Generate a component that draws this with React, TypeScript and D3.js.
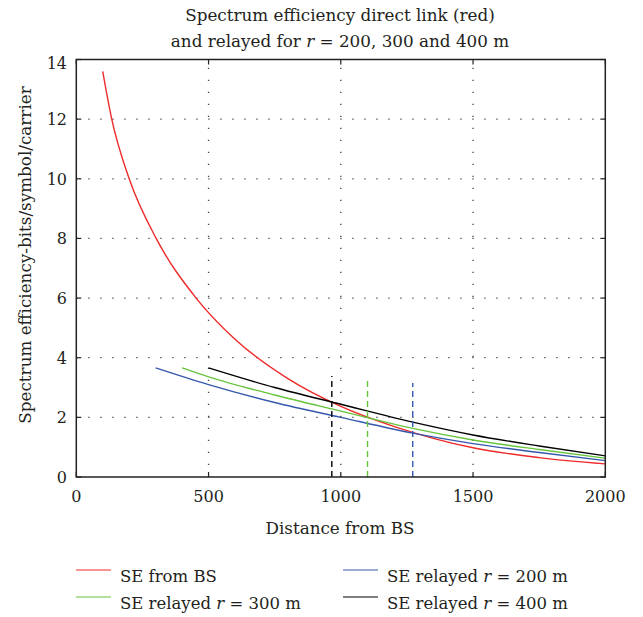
import React from "react";
import * as d3 from "d3";

// distance from BS (m) and spectrum efficiency values
const redDist = [100, 134, 200, 302, 453, 600, 800, 1000, 1200, 1500, 1750, 2000];
const redSE = [13.6, 12.0, 10.0, 8.0, 6.0, 4.62, 3.3, 2.37, 1.7, 0.98, 0.65, 0.44];

const blueDist = [300, 500, 750, 1000, 1272, 1500, 1750, 2000];
const blueSE = [3.66, 3.1, 2.5, 2.0, 1.47, 1.12, 0.82, 0.55];

const greenDist = [400, 500, 750, 1000, 1272, 1500, 1750, 2000];
const greenSE = [3.66, 3.36, 2.75, 2.21, 1.63, 1.24, 0.92, 0.63];

const blackDist = [500, 750, 1000, 1272, 1500, 1750, 2000];
const blackSE = [3.66, 3.0, 2.44, 1.84, 1.41, 1.04, 0.71];

// dashed crossover markers
const markerDist = [966, 1101, 1272];
const markerTop = [3.39, 3.32, 3.15];

const xTicks = [0, 500, 1000, 1500, 2000];
const yTicks = [0, 2, 4, 6, 8, 10, 12, 14];

const RED = "#ee2a2a";
const GREEN = "#66c43c";
const BLUE = "#3558ad";
const BLACK = "#000000";
const markerColors = [BLACK, GREEN, BLUE];

const TEXT = "#231f20";
const font = "'DejaVu Serif', serif";

export default function App() {
  const width = 643;
  const height = 617;
  const margin = { left: 76.3, right: 37.7, top: 59.5, bottom: 140 };
  const x = d3.scaleLinear().domain([0, 2000]).range([margin.left, width - margin.right]);
  const y = d3.scaleLinear().domain([0, 14]).range([height - margin.bottom, margin.top]);

  const line = d3
    .line<[number, number]>()
    .x((d) => x(d[0]))
    .y((d) => y(d[1]))
    .curve(d3.curveMonotoneX);

  const series = [
    { dist: redDist, se: redSE, color: RED },
    { dist: blueDist, se: blueSE, color: BLUE },
    { dist: greenDist, se: greenSE, color: GREEN },
    { dist: blackDist, se: blackSE, color: BLACK },
  ];

  const x0 = x(0);
  const x1 = x(2000);
  const y0 = y(0);
  const y1 = y(14);

  const legend = [
    { label: "SE from BS", r: null, color: RED, lx: 76, ly: 570 },
    { label: "SE relayed ", r: " = 300 m", color: GREEN, lx: 76, ly: 597 },
    { label: "SE relayed ", r: " = 200 m", color: BLUE, lx: 343, ly: 570 },
    { label: "SE relayed ", r: " = 400 m", color: BLACK, lx: 343, ly: 597 },
  ];

  const ts = { fontFamily: font, fill: TEXT };

  return (
    <svg width={width} height={height} style={{ position: "absolute", left: 0, top: 0, background: "#fff" }}>
      {/* title */}
      <text x={340} y={20.7} textAnchor="middle" fontSize={16.8} style={ts}>
        Spectrum efficiency direct link (red)
      </text>
      <text x={340} y={46.7} textAnchor="middle" fontSize={16.8} style={ts}>
        and relayed for <tspan fontStyle="italic">r</tspan> = 200, 300 and 400 m
      </text>

      {/* dotted grid */}
      {yTicks.slice(1, -1).map((t) => (
        <line key={"gy" + t} x1={x0} x2={x1} y1={y(t)} y2={y(t)} stroke="#444" strokeWidth={1.3} strokeDasharray="1.3,10.7" />
      ))}
      {xTicks.slice(1, -1).map((t) => (
        <line key={"gx" + t} x1={x(t)} x2={x(t)} y1={y0} y2={y1} stroke="#444" strokeWidth={1.3} strokeDasharray="1.3,10.7" />
      ))}

      {/* curves */}
      {series.map((s, i) => (
        <path key={i} d={line(s.dist.map((d, j) => [d, s.se[j]] as [number, number])) || ""} fill="none" stroke={s.color} strokeWidth={1.4} />
      ))}

      {/* dashed markers */}
      {markerDist.map((d, i) => (
        <line key={"m" + i} x1={x(d)} x2={x(d)} y1={y0} y2={y(markerTop[i])} stroke={markerColors[i]} strokeWidth={1.4} strokeDasharray="6,4" />
      ))}

      {/* frame */}
      <rect x={x0} y={y1} width={x1 - x0} height={y0 - y1} fill="none" stroke="#222" strokeWidth={1.5} />

      {/* inward ticks */}
      {xTicks.map((t) => (
        <g key={"tx" + t}>
          <line x1={x(t)} x2={x(t)} y1={y0} y2={y0 - 5} stroke="#222" strokeWidth={1.2} />
          <line x1={x(t)} x2={x(t)} y1={y1} y2={y1 + 5} stroke="#222" strokeWidth={1.2} />
          <text x={x(t)} y={501.5} textAnchor="middle" fontSize={16} style={ts}>
            {t}
          </text>
        </g>
      ))}
      {yTicks.map((t) => (
        <g key={"ty" + t}>
          <line x1={x0} x2={x0 + 5} y1={y(t)} y2={y(t)} stroke="#222" strokeWidth={1.2} />
          <line x1={x1} x2={x1 - 5} y1={y(t)} y2={y(t)} stroke="#222" strokeWidth={1.2} />
          <text x={67} y={y(t) + (t === 14 ? 9.5 : 6)} textAnchor="end" fontSize={16} style={ts}>
            {t}
          </text>
        </g>
      ))}

      {/* axis labels */}
      <text x={340} y={534} textAnchor="middle" fontSize={16.8} style={ts}>
        Distance from BS
      </text>
      <text transform="translate(31, 255) rotate(-90)" textAnchor="middle" fontSize={16.8} style={ts}>
        Spectrum efficiency-bits/symbol/carrier
      </text>

      {/* legend */}
      {legend.map((l, i) => (
        <g key={"l" + i}>
          <line x1={l.lx} x2={l.lx + 35} y1={l.ly} y2={l.ly} stroke={l.color} strokeWidth={1.2} />
          <text x={l.lx + 44} y={l.ly + 11.5} fontSize={16.5} style={ts}>
            {l.label}
            {l.r && (
              <>
                <tspan fontStyle="italic">r</tspan>
                {l.r}
              </>
            )}
          </text>
        </g>
      ))}
    </svg>
  );
}
